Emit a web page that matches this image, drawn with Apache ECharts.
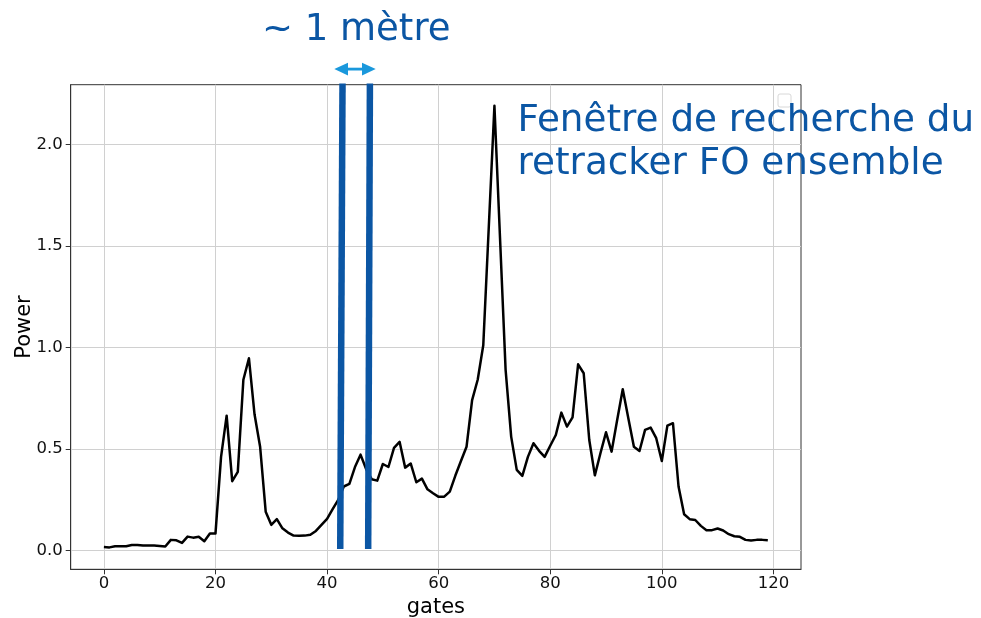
<!DOCTYPE html>
<html>
<head>
<meta charset="utf-8">
<script src="https://cdn.jsdelivr.net/npm/echarts@6/dist/echarts.min.js"></script>
<style>
  html, body { margin: 0; padding: 0; background: #ffffff; }
  #chart { width: 981px; height: 618px; }
</style>
</head>
<body>
<div id="chart"></div>
<script>
// ---- Data ----
const power = [
  0.016, 0.014, 0.020, 0.020, 0.020, 0.026, 0.026, 0.023, 0.023, 0.023,
  0.021, 0.018, 0.051, 0.049, 0.036, 0.067, 0.062, 0.066, 0.044, 0.082,
  0.082, 0.460, 0.663, 0.340, 0.386, 0.840, 0.946, 0.670, 0.510, 0.190,
  0.125, 0.153, 0.108, 0.087, 0.072, 0.071, 0.072, 0.076, 0.095, 0.125,
  0.154, 0.202, 0.248, 0.314, 0.327, 0.410, 0.471, 0.400, 0.350, 0.343,
  0.425, 0.410, 0.504, 0.534, 0.407, 0.427, 0.335, 0.353, 0.300, 0.281,
  0.263, 0.264, 0.289, 0.368, 0.440, 0.510, 0.740, 0.840, 1.010, 1.600,
  2.190, 1.540, 0.890, 0.560, 0.396, 0.366, 0.460, 0.527, 0.490, 0.460,
  0.515, 0.568, 0.678, 0.609, 0.655, 0.916, 0.872, 0.543, 0.369, 0.478,
  0.581, 0.486, 0.642, 0.793, 0.650, 0.510, 0.489, 0.593, 0.604, 0.552,
  0.440, 0.614, 0.626, 0.314, 0.177, 0.153, 0.149, 0.120, 0.099, 0.099,
  0.107, 0.097, 0.079, 0.069, 0.066, 0.051, 0.048, 0.051, 0.051, 0.049
];
const xTicks = [0, 20, 40, 60, 80, 100, 120];
const yTicks = [0.0, 0.5, 1.0, 1.5, 2.0];
// search window edges (gate, power) : bottom and top points of each bar
const windowLeft = [[42.36, 0.006], [42.77, 2.30]];
const windowRight = [[47.37, 0.006], [47.68, 2.30]];
const xLabel = 'gates';
const yLabel = 'Power';
const widthNote = '~ 1 mètre';
const windowNote = 'Fenêtre de recherche du\nretracker FO ensemble';

const seriesData = power.map((v, i) => [i, v]);

const chart = echarts.init(document.getElementById('chart'), null, { renderer: 'canvas' });
const FONT = 'DejaVu Sans';
const BLUE = '#0b56a4';
const ARROW = '#1a98dc';

chart.setOption({
  animation: false,
  backgroundColor: '#ffffff',
  textStyle: { fontFamily: FONT },
  grid: {
    left: 70.7, right: 180, top: 84.7, bottom: 48.7,
    containLabel: false, outerBoundsMode: 'none',
    show: true, borderColor: '#333', borderWidth: 1, backgroundColor: 'transparent'
  },
  xAxis: {
    type: 'value',
    min: -5.95, max: 124.95,
    name: xLabel, nameLocation: 'middle', nameGap: 27,
    nameTextStyle: { fontSize: 21, color: '#000', fontFamily: FONT },
    axisLine: { show: true, onZero: false, lineStyle: { color: '#333', width: 1 } },
    axisTick: { show: true, length: 5, customValues: xTicks, lineStyle: { color: '#333' } },
    axisLabel: { customValues: xTicks, fontSize: 16.5, color: '#111', margin: 6, fontFamily: FONT },
    splitLine: { show: true, lineStyle: { color: '#d0d0d0', width: 1 } }
  },
  yAxis: {
    type: 'value',
    min: -0.094, max: 2.294,
    name: yLabel, nameLocation: 'middle', nameGap: 36, nameRotate: 90, nameMoveOverlap: false,
    nameTextStyle: { fontSize: 21, color: '#000', fontFamily: FONT },
    axisLine: { show: true, onZero: false, lineStyle: { color: '#333', width: 1 } },
    axisTick: { show: true, length: 5, customValues: yTicks, lineStyle: { color: '#333' } },
    axisLabel: {
      customValues: yTicks, fontSize: 16.5, color: '#111', margin: 8, fontFamily: FONT,
      formatter: v => v.toFixed(1)
    },
    splitLine: { show: true, lineStyle: { color: '#d0d0d0', width: 1 } }
  },
  series: [
    {
      type: 'line', data: seriesData, showSymbol: false, symbol: 'none',
      lineStyle: { color: '#000', width: 2.5, join: 'round' }, z: 3
    },
    {
      type: 'line', data: windowLeft, showSymbol: false, symbol: 'none', clip: false,
      lineStyle: { color: BLUE, width: 6.5, cap: 'butt' }, z: 4
    },
    {
      type: 'line', data: windowRight, showSymbol: false, symbol: 'none', clip: false,
      lineStyle: { color: BLUE, width: 6.5, cap: 'butt' }, z: 4
    }
  ],
  graphic: [
    // empty legend frame
    { type: 'rect', shape: { x: 778, y: 94, width: 13, height: 13, r: 2 },
      style: { fill: '#fff', stroke: '#d8d8d8', lineWidth: 1 }, z: 5 },
    // double arrow
    { type: 'rect', shape: { x: 346, y: 67.7, width: 17, height: 2.8 }, style: { fill: ARROW }, z: 10 },
    { type: 'polygon', shape: { points: [[334.3, 69.1], [348, 62.8], [348, 75.4]] }, style: { fill: ARROW }, z: 10 },
    { type: 'polygon', shape: { points: [[375.7, 69.1], [362, 62.8], [362, 75.4]] }, style: { fill: ARROW }, z: 10 },
    // annotations
    { type: 'text', x: 262, y: 30.5, z: 10,
      style: { text: widthNote, font: '37px "DejaVu Sans"', fill: BLUE, verticalAlign: 'middle', align: 'left' } },
    { type: 'text', x: 517.5, y: 99.5, z: 10,
      style: { text: windowNote, font: '37.3px "DejaVu Sans"', fill: BLUE, lineHeight: 43.3, verticalAlign: 'top', align: 'left' } }
  ]
});
</script>
</body>
</html>
